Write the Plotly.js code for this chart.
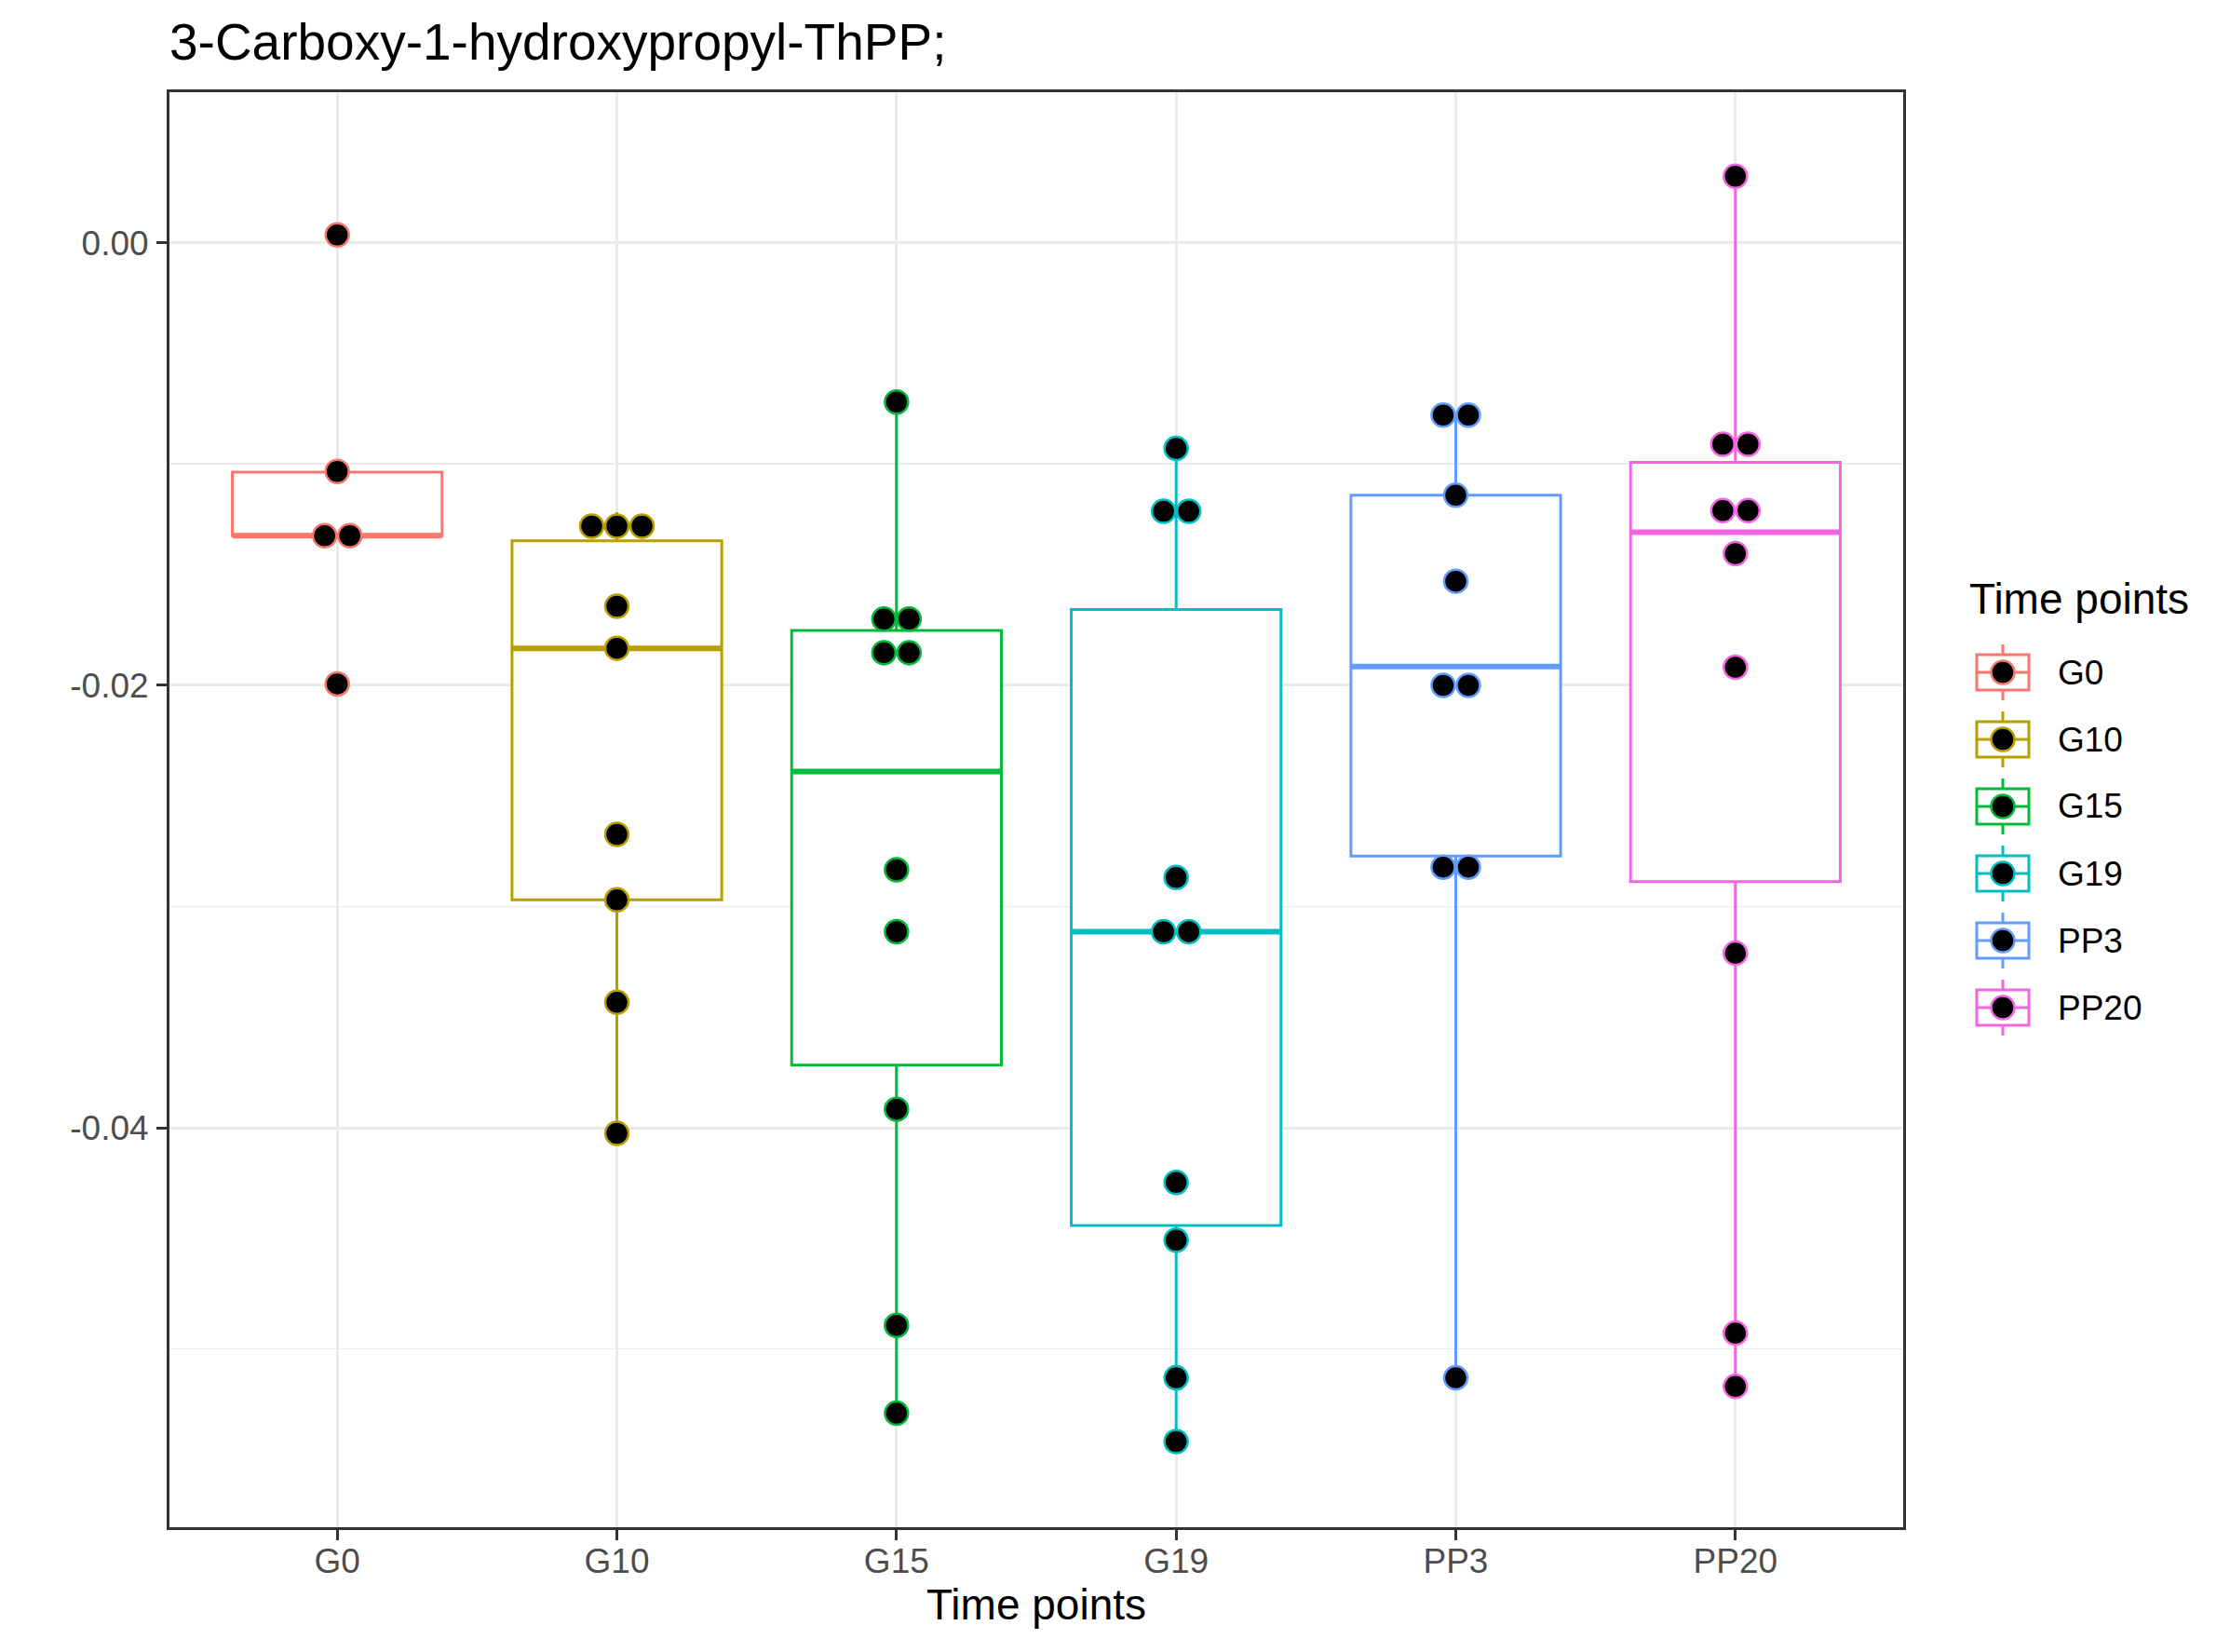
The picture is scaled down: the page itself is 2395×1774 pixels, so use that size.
<!DOCTYPE html>
<html>
<head>
<meta charset="utf-8">
<script src="https://cdn.plot.ly/plotly-3.0.1.min.js"></script>
<style>html,body{margin:0;padding:0;background:#fff;}#chart{width:2395px;height:1774px;}</style>
</head>
<body>
<div id="chart"></div>
<script>
// ---- data ----
const categories = ['G0', 'G10', 'G15', 'G19', 'PP3', 'PP20'];
const colors = ['#F8766D', '#B79F00', '#00BA38', '#00BFC4', '#619CFF', '#F564E3'];

// displayed (binned) point values per time point
const pointsG0   = [0.00035, -0.01034, -0.01324, -0.01324, -0.01994];
const pointsG10  = [-0.01281, -0.01281, -0.01281, -0.01643, -0.01833, -0.02674, -0.02970, -0.03433, -0.04025];
const pointsG15  = [-0.00720, -0.01701, -0.01701, -0.01853, -0.01853, -0.02834, -0.03114, -0.03916, -0.04893, -0.05290];
const pointsG19  = [-0.00930, -0.01214, -0.01214, -0.02869, -0.03114, -0.03114, -0.04247, -0.04508, -0.05130, -0.05418];
const pointsPP3  = [-0.00779, -0.00779, -0.01141, -0.01530, -0.02001, -0.02001, -0.02822, -0.02822, -0.05130];
const pointsPP20 = [0.00300, -0.00911, -0.00911, -0.01211, -0.01211, -0.01405, -0.01919, -0.03211, -0.04928, -0.05169];

// box statistics per time point
const boxQ1     = [-0.01324, -0.02970, -0.03717, -0.04441, -0.02772, -0.02888];
const boxMedian = [-0.01324, -0.01833, -0.02390, -0.03114, -0.01915, -0.01308];
const boxQ3     = [-0.01037, -0.01347, -0.01752, -0.01658, -0.01141, -0.00993];
const boxLower  = [-0.01324, -0.04025, -0.05290, -0.05418, -0.05130, -0.05169];
const boxUpper  = [-0.01037, -0.01218, -0.00720, -0.00930, -0.00779, 0.00300];

const yTickVals  = [-0.04, -0.02, 0.00];
const yTickText  = ['-0.04', '-0.02', '0.00'];
const yMinorVals = [-0.05, -0.03, -0.01];

const titleText = '3-Carboxy-1-hydroxypropyl-ThPP;';
const xTitle = 'Time points';
const legendTitle = 'Time points';

// ---- build ----
const allPoints = [pointsG0, pointsG10, pointsG15, pointsG19, pointsPP3, pointsPP20];
const BOX_W = 0.75;
const DOT_STEP = 0.09;
const FONT = 'Liberation Sans, Arial, Helvetica, sans-serif';

function dotOffsets(vals, step) {
  const groups = {};
  vals.forEach((v, i) => { const k = v.toFixed(5); (groups[k] = groups[k] || []).push(i); });
  const off = new Array(vals.length).fill(0);
  Object.values(groups).forEach(idx => {
    const n = idx.length;
    idx.forEach((id, k) => { off[id] = (k - (n - 1) / 2) * step; });
  });
  return off;
}

const traces = [];
categories.forEach((c, i) => {
  traces.push({
    type: 'box', name: c, x: [i], q1: [boxQ1[i]], median: [boxMedian[i]], q3: [boxQ3[i]],
    lowerfence: [boxLower[i]], upperfence: [boxUpper[i]],
    width: BOX_W, whiskerwidth: 0, boxpoints: false,
    line: { color: colors[i], width: 3 }, fillcolor: '#FFFFFF',
    showlegend: false, hoverinfo: 'skip'
  });
  traces.push({
    type: 'scatter', mode: 'lines', x: [i - BOX_W / 2, i + BOX_W / 2], y: [boxMedian[i], boxMedian[i]],
    line: { color: colors[i], width: 6 }, showlegend: false, hoverinfo: 'skip'
  });
});
categories.forEach((c, i) => {
  const vals = allPoints[i];
  const off = dotOffsets(vals, DOT_STEP);
  traces.push({
    type: 'scatter', mode: 'markers', name: c,
    x: vals.map((v, k) => i + off[k]), y: vals,
    marker: { color: '#000000', size: 25, line: { color: colors[i], width: 2.5 } },
    showlegend: false
  });
});

// ---- manual ggplot-style legend ----
const W = 2395, H = 1774, ML = 182, MR = 351, MT = 99, MB = 134;
const PW = W - ML - MR, PH = H - MT - MB;
const px2x = px => (px - ML) / PW;
const py2y = py => (H - MB - py) / PH;

const shapes = [];
const annotations = [];
annotations.push({
  xref: 'paper', yref: 'paper', x: px2x(2113), y: py2y(643), xanchor: 'left', yanchor: 'middle',
  text: legendTitle, showarrow: false, font: { family: FONT, size: 46, color: '#000000' }
});
categories.forEach((c, i) => {
  const yc = py2y(722 + 72 * i);
  const xc = px2x(2151);
  const base = { xref: 'paper', yref: 'paper', xsizemode: 'pixel', ysizemode: 'pixel', xanchor: xc, yanchor: yc };
  shapes.push(Object.assign({}, base, { type: 'line', x0: 0, x1: 0, y0: -30, y1: 30, line: { color: colors[i], width: 3 } }));
  shapes.push(Object.assign({}, base, { type: 'rect', x0: -28, x1: 28, y0: -19, y1: 19, fillcolor: '#FFFFFF', line: { color: colors[i], width: 3 } }));
  shapes.push(Object.assign({}, base, { type: 'line', x0: -28, x1: 28, y0: 0, y1: 0, line: { color: colors[i], width: 3 } }));
  shapes.push(Object.assign({}, base, { type: 'circle', x0: -12.5, x1: 12.5, y0: -12.5, y1: 12.5, fillcolor: '#000000', line: { color: colors[i], width: 2.5 } }));
  annotations.push({
    xref: 'paper', yref: 'paper', x: px2x(2208), y: yc, xanchor: 'left', yanchor: 'middle',
    text: c, showarrow: false, font: { family: FONT, size: 37, color: '#000000' }
  });
});

const layout = {
  width: W, height: H,
  margin: { l: ML, r: MR, t: MT, b: MB, pad: 0 },
  paper_bgcolor: '#FFFFFF', plot_bgcolor: '#FFFFFF',
  font: { family: FONT, color: '#000000' },
  showlegend: false,
  boxmode: 'overlay',
  title: {
    text: titleText, xref: 'container', yref: 'container', x: ML / W, xanchor: 'left',
    y: 1 - 45 / H, yanchor: 'middle', font: { family: FONT, size: 55, color: '#000000' }
  },
  xaxis: {
    range: [-0.6, 5.6], tickmode: 'array', tickvals: categories.map((c, i) => i), ticktext: categories,
    showgrid: true, gridcolor: '#EBEBEB', gridwidth: 3, zeroline: false,
    showline: true, mirror: true, linecolor: '#333333', linewidth: 3,
    ticks: 'outside', ticklen: 11, tickwidth: 3, tickcolor: '#333333',
    ticklabelstandoff: -9,
    tickfont: { family: FONT, size: 37, color: '#4D4D4D' },
    title: { text: xTitle, font: { family: FONT, size: 46, color: '#000000' }, standoff: 11 },
    automargin: false, fixedrange: true
  },
  yaxis: {
    range: [-0.05805, 0.0068], tickmode: 'array', tickvals: yTickVals, ticktext: yTickText,
    showgrid: true, gridcolor: '#EBEBEB', gridwidth: 3, zeroline: false,
    minor: { tickmode: 'array', tickvals: yMinorVals, showgrid: true, gridcolor: '#EBEBEB', gridwidth: 1.5, ticks: '' },
    showline: true, mirror: true, linecolor: '#333333', linewidth: 3,
    ticks: 'outside', ticklen: 11, tickwidth: 3, tickcolor: '#333333',
    ticklabelstandoff: 1,
    tickfont: { family: FONT, size: 37, color: '#4D4D4D' },
    automargin: false, fixedrange: true
  },
  shapes: shapes,
  annotations: annotations
};

Plotly.newPlot('chart', traces, layout, { staticPlot: true, displayModeBar: false });
</script>
</body>
</html>
